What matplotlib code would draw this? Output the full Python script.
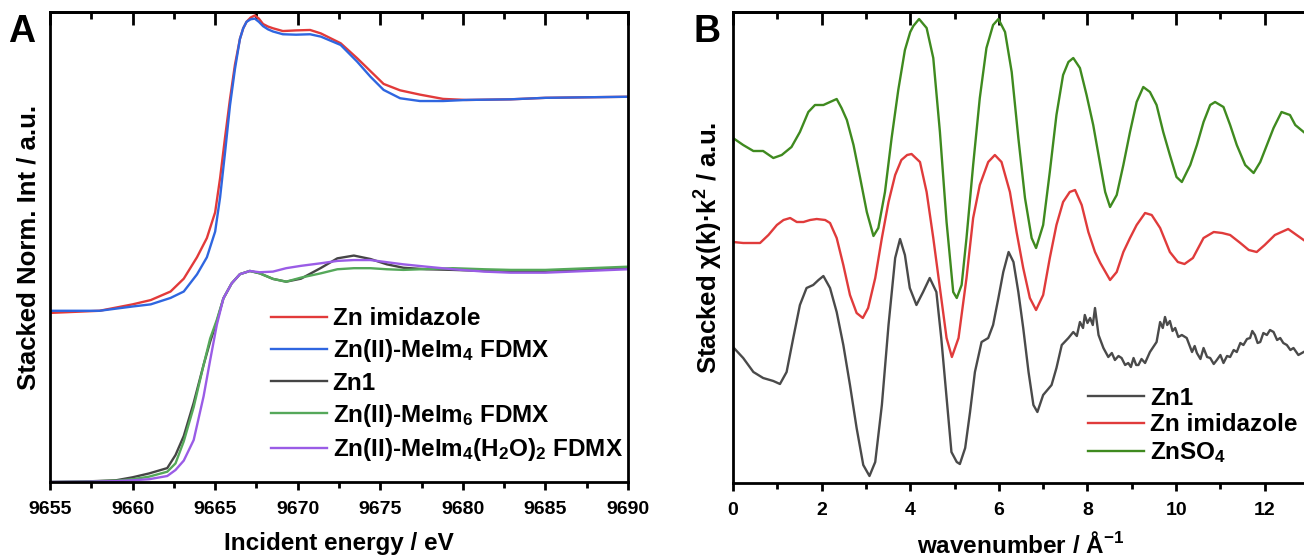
import numpy as np
import matplotlib.pyplot as plt

plt.rcParams['font.family'] = ['Liberation Sans', 'DejaVu Sans']
plt.rcParams['font.weight'] = 'bold'
plt.rcParams['mathtext.default'] = 'regular'

### Panel A: XANES (stacked, normalised) ###
E_upper = [9655, 9658, 9660, 9661.1, 9662.3, 9663.1, 9663.9, 9664.5, 9665.0, 9665.3,
           9665.6, 9665.9, 9666.2, 9666.5, 9666.7, 9666.9, 9667.15, 9667.4, 9667.65, 9667.9,
           9668.2, 9668.5, 9669.1, 9669.9, 9670.75, 9671.4, 9672.6, 9673.6, 9674.4, 9675.2,
           9676.2, 9677.4, 9678.8, 9680.2, 9682.9, 9685, 9690]
zn_imidazole = [0.79, 0.80, 0.83, 0.85, 0.89, 0.95, 1.05, 1.14, 1.26, 1.42,
                1.61, 1.79, 1.95, 2.07, 2.12, 2.15, 2.17, 2.18, 2.165, 2.14,
                2.128, 2.12, 2.107, 2.11, 2.112, 2.096, 2.05, 1.98, 1.92, 1.86,
                1.83, 1.81, 1.79, 1.785, 1.788, 1.795, 1.80]
meim4 = [0.80, 0.80, 0.82, 0.83, 0.86, 0.89, 0.97, 1.05, 1.17, 1.33,
         1.54, 1.76, 1.93, 2.07, 2.12, 2.15, 2.162, 2.165, 2.15, 2.13,
         2.115, 2.105, 2.092, 2.09, 2.092, 2.081, 2.042, 1.964, 1.894, 1.832,
         1.793, 1.78, 1.78, 1.785, 1.788, 1.795, 1.80]

E_lower = [9655, 9657, 9659, 9660, 9661.0, 9662.1, 9662.6, 9663.1, 9663.7, 9664.3,
           9664.7, 9665.1, 9665.5, 9666.0, 9666.5, 9667.1, 9667.7, 9668.5, 9669.3, 9670.2,
           9671.4, 9672.4, 9673.4, 9674.4, 9675.4, 9676.4, 9677.8, 9679.4, 9681.3, 9682.9,
           9685, 9690]
zn1_xanes = [0.0, 0.002, 0.008, 0.022, 0.04, 0.065, 0.126, 0.215, 0.37, 0.547,
             0.656, 0.749, 0.858, 0.928, 0.971, 0.986, 0.975, 0.949, 0.936, 0.95,
             1.0, 1.045, 1.058, 1.042, 1.017, 1.001, 0.994, 0.991, 0.986, 0.983,
             0.987, 0.999]
meim6 = [0.0, 0.002, 0.006, 0.013, 0.025, 0.048, 0.087, 0.19, 0.35, 0.547,
         0.671, 0.757, 0.858, 0.928, 0.971, 0.986, 0.975, 0.949, 0.936, 0.955,
         0.975, 0.994, 0.999, 0.999, 0.994, 0.991, 0.995, 0.999, 0.994, 0.991,
         0.991, 1.006]
meim4_h2o = [0.0, 0.001, 0.004, 0.008, 0.013, 0.028, 0.056, 0.10, 0.196, 0.40,
             0.57, 0.734, 0.858, 0.928, 0.971, 0.986, 0.98, 0.983, 0.999, 1.01,
             1.022, 1.033, 1.037, 1.037, 1.027, 1.017, 1.006, 0.994, 0.983, 0.978,
             0.978, 0.994]

### Panel B: EXAFS chi(k)*k^2 (stacked) ###
k_so4 = [0, 0.23, 0.46, 0.68, 0.91, 1.1, 1.32, 1.51, 1.7, 1.85, 2.04, 2.19, 2.34, 2.45, 2.57,
         2.72, 2.87, 3.02, 3.17, 3.28, 3.43, 3.58, 3.73, 3.88, 4.0, 4.07, 4.2, 4.37, 4.52, 4.67,
         4.82, 4.97, 5.05, 5.16, 5.27, 5.42, 5.57, 5.72, 5.87, 5.99, 6.14, 6.29, 6.44, 6.59, 6.74,
         6.84, 7.0, 7.15, 7.3, 7.45, 7.57, 7.68, 7.83, 7.98, 8.13, 8.29, 8.4, 8.51, 8.66, 8.81,
         8.96, 9.11, 9.26, 9.41, 9.56, 9.71, 9.86, 10.01, 10.13, 10.32, 10.47, 10.62, 10.77, 10.88,
         11.07, 11.22, 11.37, 11.56, 11.75, 11.9, 12.05, 12.2, 12.38, 12.57, 12.69, 12.88]
znso4 = [3.45, 3.38, 3.32, 3.32, 3.25, 3.28, 3.36, 3.51, 3.71, 3.78, 3.78, 3.81, 3.84, 3.75, 3.63,
         3.38, 3.05, 2.71, 2.47, 2.55, 2.91, 3.45, 3.93, 4.33, 4.51, 4.57, 4.64, 4.55, 4.25, 3.51,
         2.61, 1.91, 1.85, 1.98, 2.45, 3.18, 3.85, 4.35, 4.58, 4.64, 4.51, 4.11, 3.45, 2.85, 2.45,
         2.35, 2.58, 3.11, 3.68, 4.08, 4.21, 4.25, 4.15, 3.88, 3.58, 3.18, 2.91, 2.76, 2.88, 3.18,
         3.51, 3.81, 3.96, 3.91, 3.78, 3.51, 3.28, 3.06, 3.01, 3.18, 3.38, 3.61, 3.78, 3.81,
         3.76, 3.58, 3.38, 3.18, 3.10, 3.21, 3.38, 3.55, 3.71, 3.68, 3.58, 3.51]

k_imid = [0, 0.23, 0.61, 0.8, 0.99, 1.14, 1.29, 1.44, 1.59, 1.74, 1.89, 2.08, 2.19, 2.34, 2.49,
          2.64, 2.79, 2.93, 3.05, 3.21, 3.36, 3.51, 3.66, 3.8, 3.93, 4.03, 4.22, 4.37, 4.52, 4.67,
          4.82, 4.94, 5.09, 5.27, 5.42, 5.57, 5.76, 5.91, 6.06, 6.25, 6.4, 6.55, 6.7, 6.84, 7.0,
          7.15, 7.3, 7.45, 7.6, 7.72, 7.87, 8.02, 8.17, 8.29, 8.51, 8.66, 8.81, 8.96, 9.11, 9.3,
          9.45, 9.64, 9.86, 10.04, 10.19, 10.38, 10.62, 10.85, 11.04, 11.22, 11.45, 11.64, 11.82,
          12.0, 12.23, 12.53, 12.72, 12.88]
imid_exafs = [2.41, 2.40, 2.40, 2.48, 2.58, 2.63, 2.65, 2.61, 2.61, 2.63, 2.64, 2.63, 2.60, 2.45, 2.18,
              1.88, 1.70, 1.65, 1.75, 2.05, 2.45, 2.81, 3.08, 3.23, 3.28, 3.29, 3.21, 2.91, 2.45, 1.95,
              1.45, 1.26, 1.45, 2.05, 2.65, 2.98, 3.21, 3.28, 3.21, 2.91, 2.51, 2.15, 1.85, 1.73, 1.88,
              2.25, 2.58, 2.81, 2.91, 2.93, 2.78, 2.51, 2.31, 2.20, 2.03, 2.11, 2.31, 2.45, 2.58, 2.70,
              2.68, 2.55, 2.31, 2.21, 2.19, 2.25, 2.45, 2.51, 2.50, 2.48, 2.40, 2.33, 2.31,
              2.38, 2.48, 2.54, 2.48, 2.43]

k_zn1 = [0, 0.23, 0.46, 0.68, 0.91, 1.06, 1.21, 1.36, 1.51, 1.66, 1.81, 1.93, 2.04, 2.19, 2.34,
         2.49, 2.64, 2.79, 2.94, 3.08, 3.21, 3.36, 3.51, 3.66, 3.77, 3.88, 3.99, 4.14, 4.29, 4.44,
         4.59, 4.7, 4.82, 4.93, 5.05, 5.12, 5.24, 5.35, 5.46, 5.61, 5.76, 5.87, 5.99, 6.1, 6.22,
         6.33, 6.44, 6.55, 6.67, 6.78, 6.87, 7.0, 7.19, 7.3, 7.42, 7.57, 7.68, 7.76, 7.83, 7.9,
         7.94, 8.0, 8.06, 8.12, 8.17, 8.25, 8.36, 8.47, 8.55, 8.62, 8.7, 8.77, 8.85, 8.92, 8.98,
         9.04, 9.1, 9.15, 9.22, 9.3, 9.41, 9.56, 9.64, 9.7, 9.75, 9.8, 9.86, 9.92, 9.98, 10.05,
         10.13, 10.24, 10.3, 10.36, 10.42, 10.47, 10.55, 10.62, 10.7, 10.77, 10.85, 10.92, 11.0,
         11.07, 11.15, 11.22, 11.3, 11.37, 11.45, 11.52, 11.6, 11.67, 11.72, 11.78, 11.84, 11.9,
         11.97, 12.05, 12.12, 12.2, 12.28, 12.35, 12.42, 12.5, 12.58, 12.65, 12.76, 12.88]
zn1_exafs = [1.36, 1.25, 1.11, 1.05, 1.02, 0.99, 1.11, 1.45, 1.78, 1.95, 1.98, 2.03, 2.07, 1.95, 1.71,
             1.38, 0.98, 0.55, 0.18, 0.07, 0.21, 0.78, 1.58, 2.25, 2.44, 2.28, 1.95, 1.78, 1.91, 2.05,
             1.91, 1.45, 0.85, 0.31, 0.21, 0.19, 0.35, 0.71, 1.11, 1.41, 1.45, 1.58, 1.85, 2.11, 2.31,
             2.21, 1.91, 1.55, 1.11, 0.78, 0.71, 0.88, 0.98, 1.15, 1.38, 1.45, 1.51, 1.47, 1.61, 1.55,
             1.68, 1.60, 1.65, 1.58, 1.75, 1.48, 1.35, 1.26, 1.30, 1.23, 1.27, 1.25, 1.18, 1.20, 1.16,
             1.25, 1.18, 1.18, 1.24, 1.20, 1.31, 1.41, 1.61, 1.55, 1.66, 1.58, 1.62, 1.52, 1.55, 1.46,
             1.48, 1.45, 1.38, 1.31, 1.37, 1.30, 1.24, 1.35, 1.26, 1.25, 1.19, 1.23, 1.28,
             1.20, 1.27, 1.26, 1.33, 1.31, 1.40, 1.38, 1.44, 1.45, 1.52, 1.48, 1.40, 1.41,
             1.50, 1.48, 1.53, 1.51, 1.43, 1.45, 1.40, 1.38, 1.33, 1.35, 1.28, 1.31]

#Figure
fig = plt.figure(figsize=(13.04, 5.6), dpi=100)
ax1 = fig.add_axes([50/1304, 78/560, 578/1304, 470/560])
ax2 = fig.add_axes([733/1304, 77/560, 576/1304, 471/560])

lw = 1.7
ax1.plot(E_upper, zn_imidazole, color='#e23a3a', lw=lw, label='Zn imidazole')
ax1.plot(E_upper, meim4, color='#2f66e0', lw=lw, label='Zn(II)-MeIm$_4$ FDMX')
ax1.plot(E_lower, zn1_xanes, color='#454545', lw=lw, label='Zn1')
ax1.plot(E_lower, meim6, color='#55a85a', lw=lw, label='Zn(II)-MeIm$_6$ FDMX')
ax1.plot(E_lower, meim4_h2o, color='#9a5ce6', lw=lw, label='Zn(II)-MeIm$_4$(H$_2$O)$_2$ FDMX')

ax2.plot(k_zn1, zn1_exafs, color='#4a4a4a', lw=lw, label='Zn1')
ax2.plot(k_imid, imid_exafs, color='#e03b3b', lw=lw, label='Zn imidazole')
ax2.plot(k_so4, znso4, color='#3f8a1f', lw=lw, label='ZnSO$_4$')

ax1.set_xlim(9655, 9690)
ax1.set_ylim(0, 2.196)
ax2.set_xlim(0, 13)
ax2.set_ylim(0, 4.71)

ax1.set_xticks(np.arange(9655, 9691, 5))
ax1.set_xticks(np.arange(9655, 9691, 2.5), minor=True)
ax2.set_xticks(np.arange(0, 13, 2))
ax2.set_xticks(np.arange(0, 14, 1), minor=True)

for ax in (ax1, ax2):
    ax.set_yticks([])
    for s in ax.spines.values():
        s.set_linewidth(2)
    ax.tick_params(axis='x', which='major', direction='out', length=6, width=2,
                   labelsize=14, pad=8)
    ax.tick_params(axis='x', which='minor', direction='out', length=4, width=2)
    for t in ax.get_xticklabels():
        t.set_fontweight('bold')
    top = ax.secondary_xaxis('top')
    top.set_xticks(ax.get_xticks())
    top.set_xticks(ax.get_xticks(minor=True), minor=True)
    top.tick_params(axis='x', which='major', direction='in', length=9, width=2, labeltop=False)
    top.tick_params(axis='x', which='minor', direction='in', length=5, width=2)
    top.spines['top'].set_linewidth(2)

ax2.spines['right'].set_visible(False)

ax1.set_xlabel('Incident energy / eV', fontsize=17.5, fontweight='bold', labelpad=10)
ax1.set_ylabel('Stacked Norm. Int / a.u.', fontsize=18.5, fontweight='bold', labelpad=7)
ax2.set_xlabel('wavenumber / Å$^{-1}$', fontsize=17.5, fontweight='bold', labelpad=9)
ax2.set_ylabel('Stacked χ(k)·k$^{2}$ / a.u.', fontsize=18.5, fontweight='bold', labelpad=6)

ax1.legend(loc='upper left', bbox_to_anchor=(0.365, 0.393), frameon=False, fontsize=17.5,
           handlelength=2.3, handletextpad=0.25, labelspacing=0.3, borderaxespad=0)
ax2.legend(loc='upper left', bbox_to_anchor=(0.6, 0.225), frameon=False, fontsize=17.5,
           handlelength=2.3, handletextpad=0.25, labelspacing=0.15, borderaxespad=0)

fig.text(8/1304, 1 - 42/560, 'A', fontsize=27, fontweight='bold')
fig.text(694/1304, 1 - 42/560, 'B', fontsize=27, fontweight='bold')

fig.savefig('out.png', dpi=100)
